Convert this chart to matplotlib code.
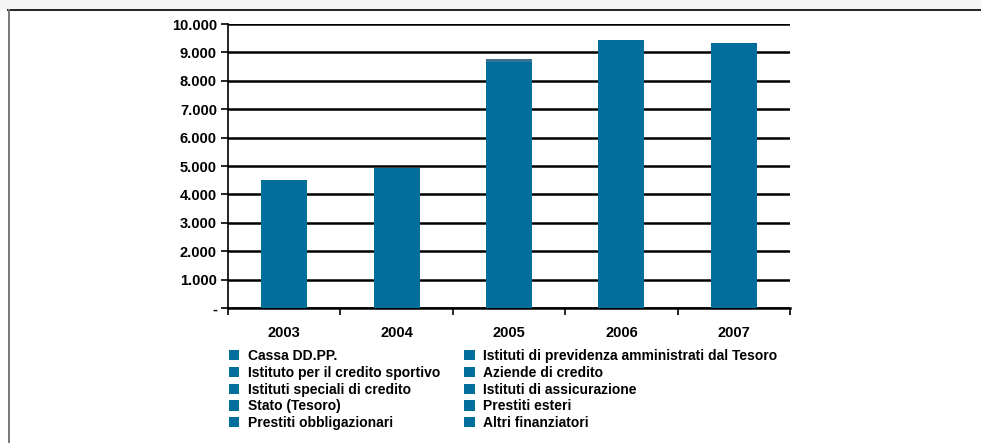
import matplotlib
matplotlib.use("Agg")
import matplotlib.pyplot as plt
import numpy as np
from matplotlib.patches import Patch, Rectangle
from matplotlib.lines import Line2D

plt.rcParams['font.family'] = ['Liberation Sans Narrow', 'Liberation Sans', 'DejaVu Sans']
plt.rcParams['font.weight'] = 'bold'

years = ['2003', '2004', '2005', '2006', '2007']

# stock of debt by lender (millions), stacked per year
series_names = [
    'Cassa DD.PP.',
    'Istituto per il credito sportivo',
    'Istituti speciali di credito',
    'Stato (Tesoro)',
    'Prestiti obbligazionari',
    'Istituti di previdenza amministrati dal Tesoro',
    'Aziende di credito',
    'Istituti di assicurazione',
    'Prestiti esteri',
    'Altri finanziatori',
]
cassa_ddpp = [4420, 4820, 8580, 9330, 9250]
credito_sportivo = [20, 20, 20, 20, 20]
istituti_speciali = [10, 10, 10, 10, 10]
stato_tesoro = [0, 0, 0, 0, 0]
prestiti_obblig = [10, 10, 20, 20, 20]
istituti_previdenza = [0, 0, 0, 0, 0]
aziende_credito = [40, 60, 40, 50, 20]
istituti_assic = [0, 0, 0, 0, 0]
prestiti_esteri = [0, 0, 110, 0, 0]
altri_finanz = [0, 10, 0, 10, 10]

series_values = [cassa_ddpp, credito_sportivo, istituti_speciali, stato_tesoro,
                 prestiti_obblig, istituti_previdenza, aziende_credito,
                 istituti_assic, prestiti_esteri, altri_finanz]
blue = '#026e9b'
series_colors = [blue] * 10
series_colors[8] = '#3a7194'

yticks = [0, 1000, 2000, 3000, 4000, 5000, 6000, 7000, 8000, 9000, 10000]
ytick_labels = ['-', '1.000', '2.000', '3.000', '4.000', '5.000',
                '6.000', '7.000', '8.000', '9.000', '10.000']

fig = plt.figure(figsize=(9.81, 4.43), dpi=100)
fig.patch.set_facecolor('white')

# page frame
fig.add_artist(Rectangle((0, 1 - 9 / 443), 1, 9 / 443, transform=fig.transFigure,
                         facecolor='#f5f5f5', edgecolor='none'))
fig.add_artist(Line2D([8 / 981, 1], [1 - 9.5 / 443, 1 - 9.5 / 443],
                      transform=fig.transFigure, color='#222222', lw=1.4))
fig.add_artist(Line2D([8.5 / 981, 8.5 / 981], [0, 1 - 9.5 / 443],
                      transform=fig.transFigure, color='#777777', lw=1.4))

ax = fig.add_axes([228 / 981, 1 - 308 / 443, 562 / 981, 284 / 443])
x = np.arange(len(years))
bottom = np.zeros(len(years))
for name, vals, col in zip(series_names, series_values, series_colors):
    ax.bar(x, vals, width=0.41, bottom=bottom, color=col, edgecolor='none', zorder=3)
    bottom += np.array(vals)

ax.set_xlim(-0.5, len(years) - 0.5)
ax.set_ylim(0, 10000)
ax.set_yticks(yticks)
ax.set_yticklabels(ytick_labels, fontsize=10.5, fontweight='bold')
ax.yaxis.grid(True, color='black', lw=1.8, zorder=1)
ax.tick_params(axis='y', length=5, width=1.2, pad=3, color='black')

ax.set_xticks(x)
ax.set_xticklabels(years, fontsize=10.5, fontweight='bold')
ax.set_xticks(np.arange(len(years) + 1) - 0.5, minor=True)
ax.tick_params(axis='x', which='major', length=0, pad=13)
ax.tick_params(axis='x', which='minor', length=5, width=1.2, color='black')

for side in ['top', 'right']:
    ax.spines[side].set_visible(False)
ax.spines['left'].set_linewidth(1.2)
ax.spines['bottom'].set_linewidth(1.8)
ax.set_axisbelow(True)

handles = [Patch(facecolor=c, edgecolor='none') for c in [blue] * 10]
leg = fig.legend(handles, series_names, ncol=2, loc='upper left',
                 bbox_to_anchor=(229 / 981, 1 - 349 / 443), frameon=False,
                 fontsize=10, handlelength=0.75, handleheight=0.75,
                 handletextpad=0.6, labelspacing=0.2, columnspacing=1.75,
                 borderaxespad=0, borderpad=0)
for t in leg.get_texts():
    t.set_fontweight('bold')

fig.savefig('out.png', dpi=100, facecolor='white')
